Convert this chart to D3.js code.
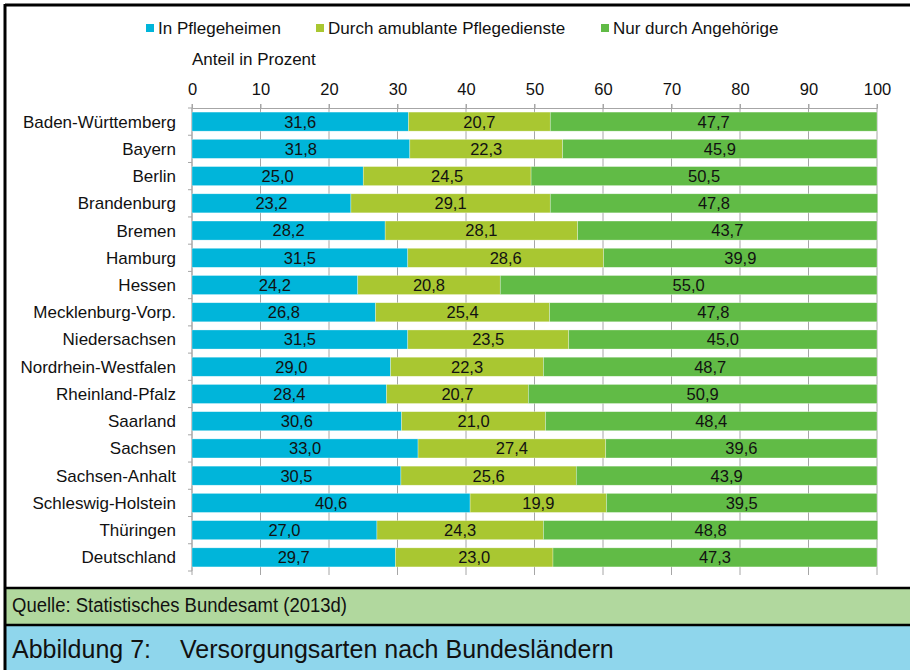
<!DOCTYPE html>
<html>
<head>
<meta charset="utf-8">
<script src="https://cdn.jsdelivr.net/npm/d3@7"></script>
<style>
  body { margin: 0; background: #fff; }
  svg { display: block; font-family: "Liberation Sans", Arial, sans-serif; }
</style>
</head>
<body>
<div id="chart"></div>
<script>
// data
const laender = ["Baden-Württemberg", "Bayern", "Berlin", "Brandenburg", "Bremen", "Hamburg", "Hessen",
  "Mecklenburg-Vorp.", "Niedersachsen", "Nordrhein-Westfalen", "Rheinland-Pfalz", "Saarland", "Sachsen",
  "Sachsen-Anhalt", "Schleswig-Holstein", "Thüringen", "Deutschland"];
const pflegeheime = [31.6, 31.8, 25.0, 23.2, 28.2, 31.5, 24.2, 26.8, 31.5, 29.0, 28.4, 30.6, 33.0, 30.5, 40.6, 27.0, 29.7];
const ambulant = [20.7, 22.3, 24.5, 29.1, 28.1, 28.6, 20.8, 25.4, 23.5, 22.3, 20.7, 21.0, 27.4, 25.6, 19.9, 24.3, 23.0];
const angehoerige = [47.7, 45.9, 50.5, 47.8, 43.7, 39.9, 55.0, 47.8, 45.0, 48.7, 50.9, 48.4, 39.6, 43.9, 39.5, 48.8, 47.3];
const serien = ["In Pflegeheimen", "Durch amublante Pflegedienste", "Nur durch Angehörige"];
const xTicks = [0, 10, 20, 30, 40, 50, 60, 70, 80, 90, 100];

const width = 910, height = 670;
const colors = ["#00b5da", "#a9c731", "#61bb46"];

const svg = d3.select("#chart").append("svg")
  .attr("width", width)
  .attr("height", height);

// background panels
svg.append("rect").attr("x", 0).attr("y", 0).attr("width", width).attr("height", height).attr("fill", "#fff");
svg.append("rect").attr("x", 5).attr("y", 588).attr("width", width).attr("height", 37).attr("fill", "#b1d89e");
svg.append("rect").attr("x", 5).attr("y", 625).attr("width", width).attr("height", 45).attr("fill", "#8fd6ec");
// frame lines
svg.append("line").attr("x1", 5).attr("x2", width).attr("y1", 5).attr("y2", 5).attr("stroke", "#000").attr("stroke-width", 3);
svg.append("line").attr("x1", 5).attr("x2", 5).attr("y1", 4).attr("y2", height).attr("stroke", "#000").attr("stroke-width", 3);
svg.append("line").attr("x1", 5).attr("x2", width).attr("y1", 588).attr("y2", 588).attr("stroke", "#000").attr("stroke-width", 2.5);
svg.append("line").attr("x1", 5).attr("x2", width).attr("y1", 625).attr("y2", 625).attr("stroke", "#000").attr("stroke-width", 2.5);

// scales
const x = d3.scaleLinear().domain([0, 100]).range([192, 877]);
const y = d3.scaleBand().domain(laender).range([108, 571]).paddingInner(0.3).paddingOuter(0.15);

// gridlines
svg.append("g")
  .selectAll("line")
  .data(xTicks)
  .join("line")
  .attr("x1", d => x(d)).attr("x2", d => x(d))
  .attr("y1", 104).attr("y2", 575)
  .attr("stroke", "#a6a6a6")
  .attr("stroke-width", 1);

// top axis
const xAxis = d3.axisTop(x).tickValues(xTicks).tickSize(4).tickFormat(d3.format("d"));
const gx = svg.append("g").attr("transform", "translate(0,108)").call(xAxis);
gx.attr("font-family", null).attr("font-size", null);
gx.select(".domain").attr("stroke", "#a6a6a6");
gx.selectAll(".tick line").attr("stroke", "#a6a6a6");
gx.selectAll(".tick text").attr("font-size", 16.5).attr("fill", "#111").attr("dy", "-6");

// left axis line with ticks on band boundaries
const bounds = d3.range(laender.length + 1).map(i => 108 + i * (463 / laender.length));
svg.append("line").attr("x1", 192).attr("x2", 192).attr("y1", 108).attr("y2", 571).attr("stroke", "#a6a6a6");
svg.append("g").selectAll("line").data(bounds).join("line")
  .attr("x1", 188).attr("x2", 192).attr("y1", d => d).attr("y2", d => d).attr("stroke", "#a6a6a6");

// category labels
svg.append("g").selectAll("text").data(laender).join("text")
  .attr("x", 176)
  .attr("y", d => y(d) + y.bandwidth() / 2)
  .attr("dy", "0.35em")
  .attr("text-anchor", "end")
  .attr("font-size", 17)
  .attr("fill", "#111")
  .text(d => d);

// stacked bars
const rows = laender.map((l, i) => ({ land: l, a: pflegeheime[i], b: ambulant[i], c: angehoerige[i] }));
const stack = d3.stack().keys(["a", "b", "c"])(rows);
const fmt = v => v.toFixed(1).replace(".", ",");

stack.forEach((layer, k) => {
  const g = svg.append("g");
  g.selectAll("rect").data(layer).join("rect")
    .attr("x", d => x(d[0]))
    .attr("y", d => y(d.data.land))
    .attr("width", d => x(d[1]) - x(d[0]))
    .attr("height", y.bandwidth())
    .attr("fill", colors[k])
    .attr("stroke", "#fff")
    .attr("stroke-opacity", 0.5)
    .attr("stroke-width", 0.6);
  g.selectAll("text").data(layer).join("text")
    .attr("x", d => (x(d[0]) + x(d[1])) / 2)
    .attr("y", d => y(d.data.land) + y.bandwidth() / 2)
    .attr("dy", "0.36em")
    .attr("text-anchor", "middle")
    .attr("font-size", 16.5)
    .attr("fill", "#111")
    .text(d => fmt(d[1] - d[0]));
});

// axis title
svg.append("text")
  .attr("x", 192).attr("y", 65)
  .attr("font-size", 17)
  .attr("fill", "#111")
  .text("Anteil in Prozent");

// legend
const legendX = [146, 316, 601];
const lg = svg.append("g").selectAll("g").data(serien).join("g")
  .attr("transform", (d, i) => `translate(${legendX[i]},0)`);
lg.append("rect").attr("x", 0).attr("y", 24).attr("width", 8).attr("height", 8)
  .attr("fill", (d, i) => colors[i]);
lg.append("text").attr("x", 12).attr("y", 28).attr("dy", "0.36em")
  .attr("font-size", 17).attr("fill", "#111").text(d => d);

// source and caption
svg.append("text")
  .attr("x", 12).attr("y", 612)
  .attr("font-size", 20)
  .attr("textLength", 335)
  .attr("lengthAdjust", "spacingAndGlyphs")
  .attr("fill", "#111")
  .text("Quelle: Statistisches Bundesamt (2013d)");

svg.append("text")
  .attr("x", 12).attr("y", 649).attr("dy", "0.36em")
  .attr("font-size", 25)
  .attr("fill", "#111")
  .text("Abbildung 7:");
svg.append("text")
  .attr("x", 180).attr("y", 649).attr("dy", "0.36em")
  .attr("font-size", 25)
  .attr("fill", "#111")
  .text("Versorgungsarten nach Bundesländern");
</script>
</body>
</html>
